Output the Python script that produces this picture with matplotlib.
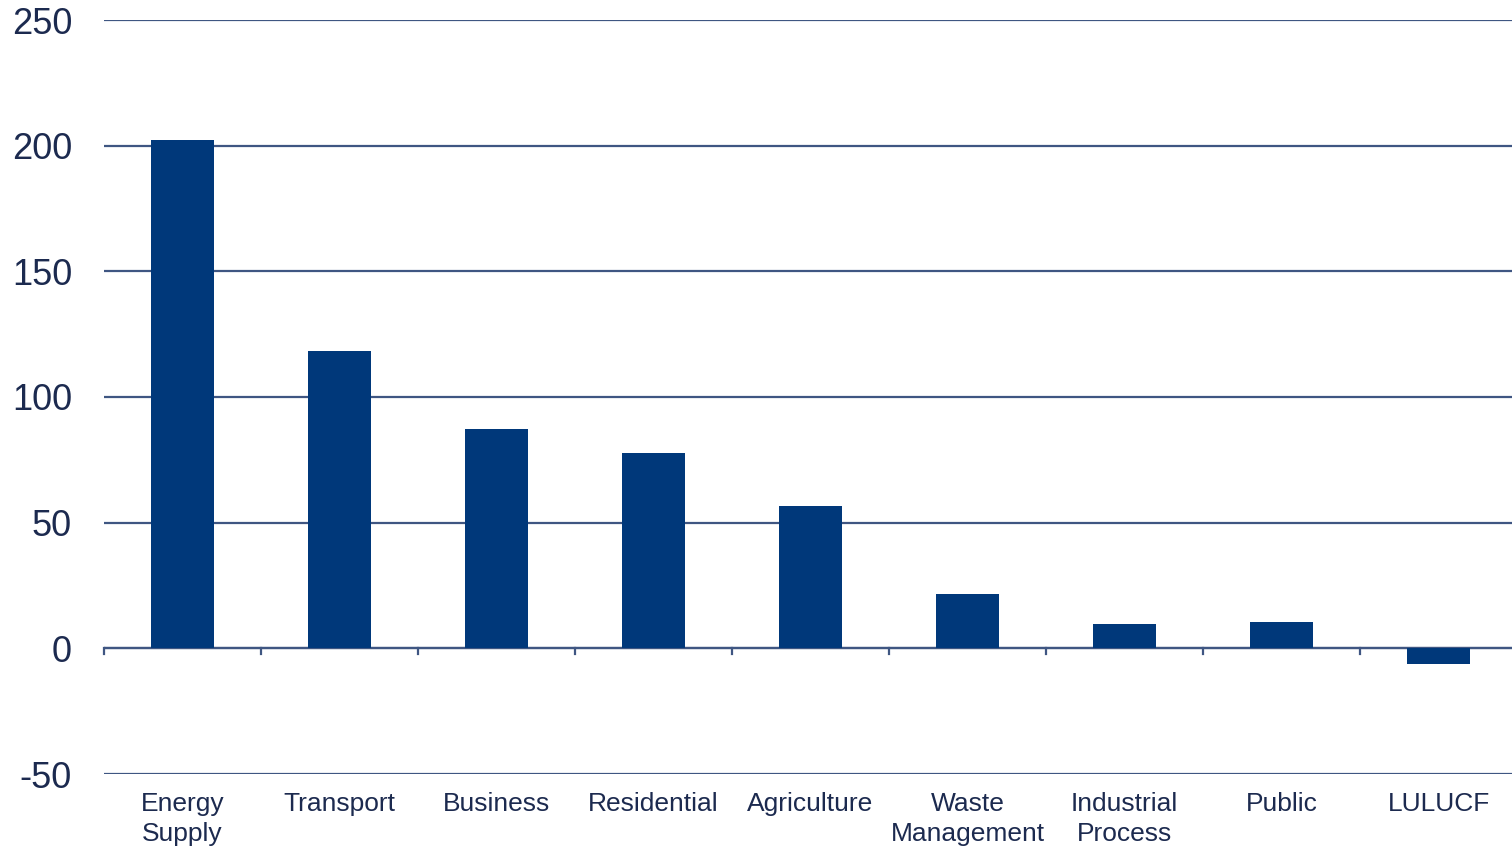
import matplotlib

matplotlib.use("Agg")
import matplotlib.pyplot as plt  # noqa: E402

categories = ["Energy\nSupply", "Transport", "Business", "Residential", "Agriculture",
              "Waste\nManagement", "Industrial\nProcess", "Public", "LULUCF"]
values = [202.3, 118.5, 87.4, 77.8, 56.7, 21.5, 9.6, 10.4, -6.4]
y_ticks = [-50, 0, 50, 100, 150, 200, 250]

bar_color = "#00387a"
grid_color = "#3f5682"
text_color = "#1c2a4f"

plt.rcParams["font.family"] = ["Liberation Sans", "DejaVu Sans"]
plt.rcParams["axes.unicode_minus"] = False

fig = plt.figure(figsize=(15.12, 8.5), dpi=100)
ax = fig.add_axes([104 / 1512, 1 - 774 / 850, 1413 / 1512, (774 - 20) / 850])

x = list(range(len(categories)))
ax.bar(x, values, width=0.4, color=bar_color, zorder=3)

ax.set_xlim(-0.5, len(categories) - 0.5)
ax.set_ylim(-50, 250)
ax.set_yticks(y_ticks)
ax.yaxis.grid(True, color=grid_color, linewidth=1.6, zorder=1)
ax.tick_params(axis="y", length=0, pad=23, labelsize=26, labelcolor=text_color)

# category labels along the bottom, no ticks there
ax.set_xticks(x)
ax.set_xticklabels(categories, fontsize=19, color=text_color, linespacing=1.3)
ax.tick_params(axis="x", length=0, pad=13)

for side in ["top", "right", "left", "bottom"]:
    ax.spines[side].set_visible(False)

# zero line with downward ticks at category boundaries
ax.axhline(0, color=grid_color, linewidth=1.6, zorder=2)
bounds = [i - 0.5 for i in range(len(categories) + 1)]
for b in bounds:
    ax.plot([b, b], [0, -2.4], color=grid_color, linewidth=1.6, zorder=2, clip_on=False)

fig.savefig("out.png", dpi=100)
